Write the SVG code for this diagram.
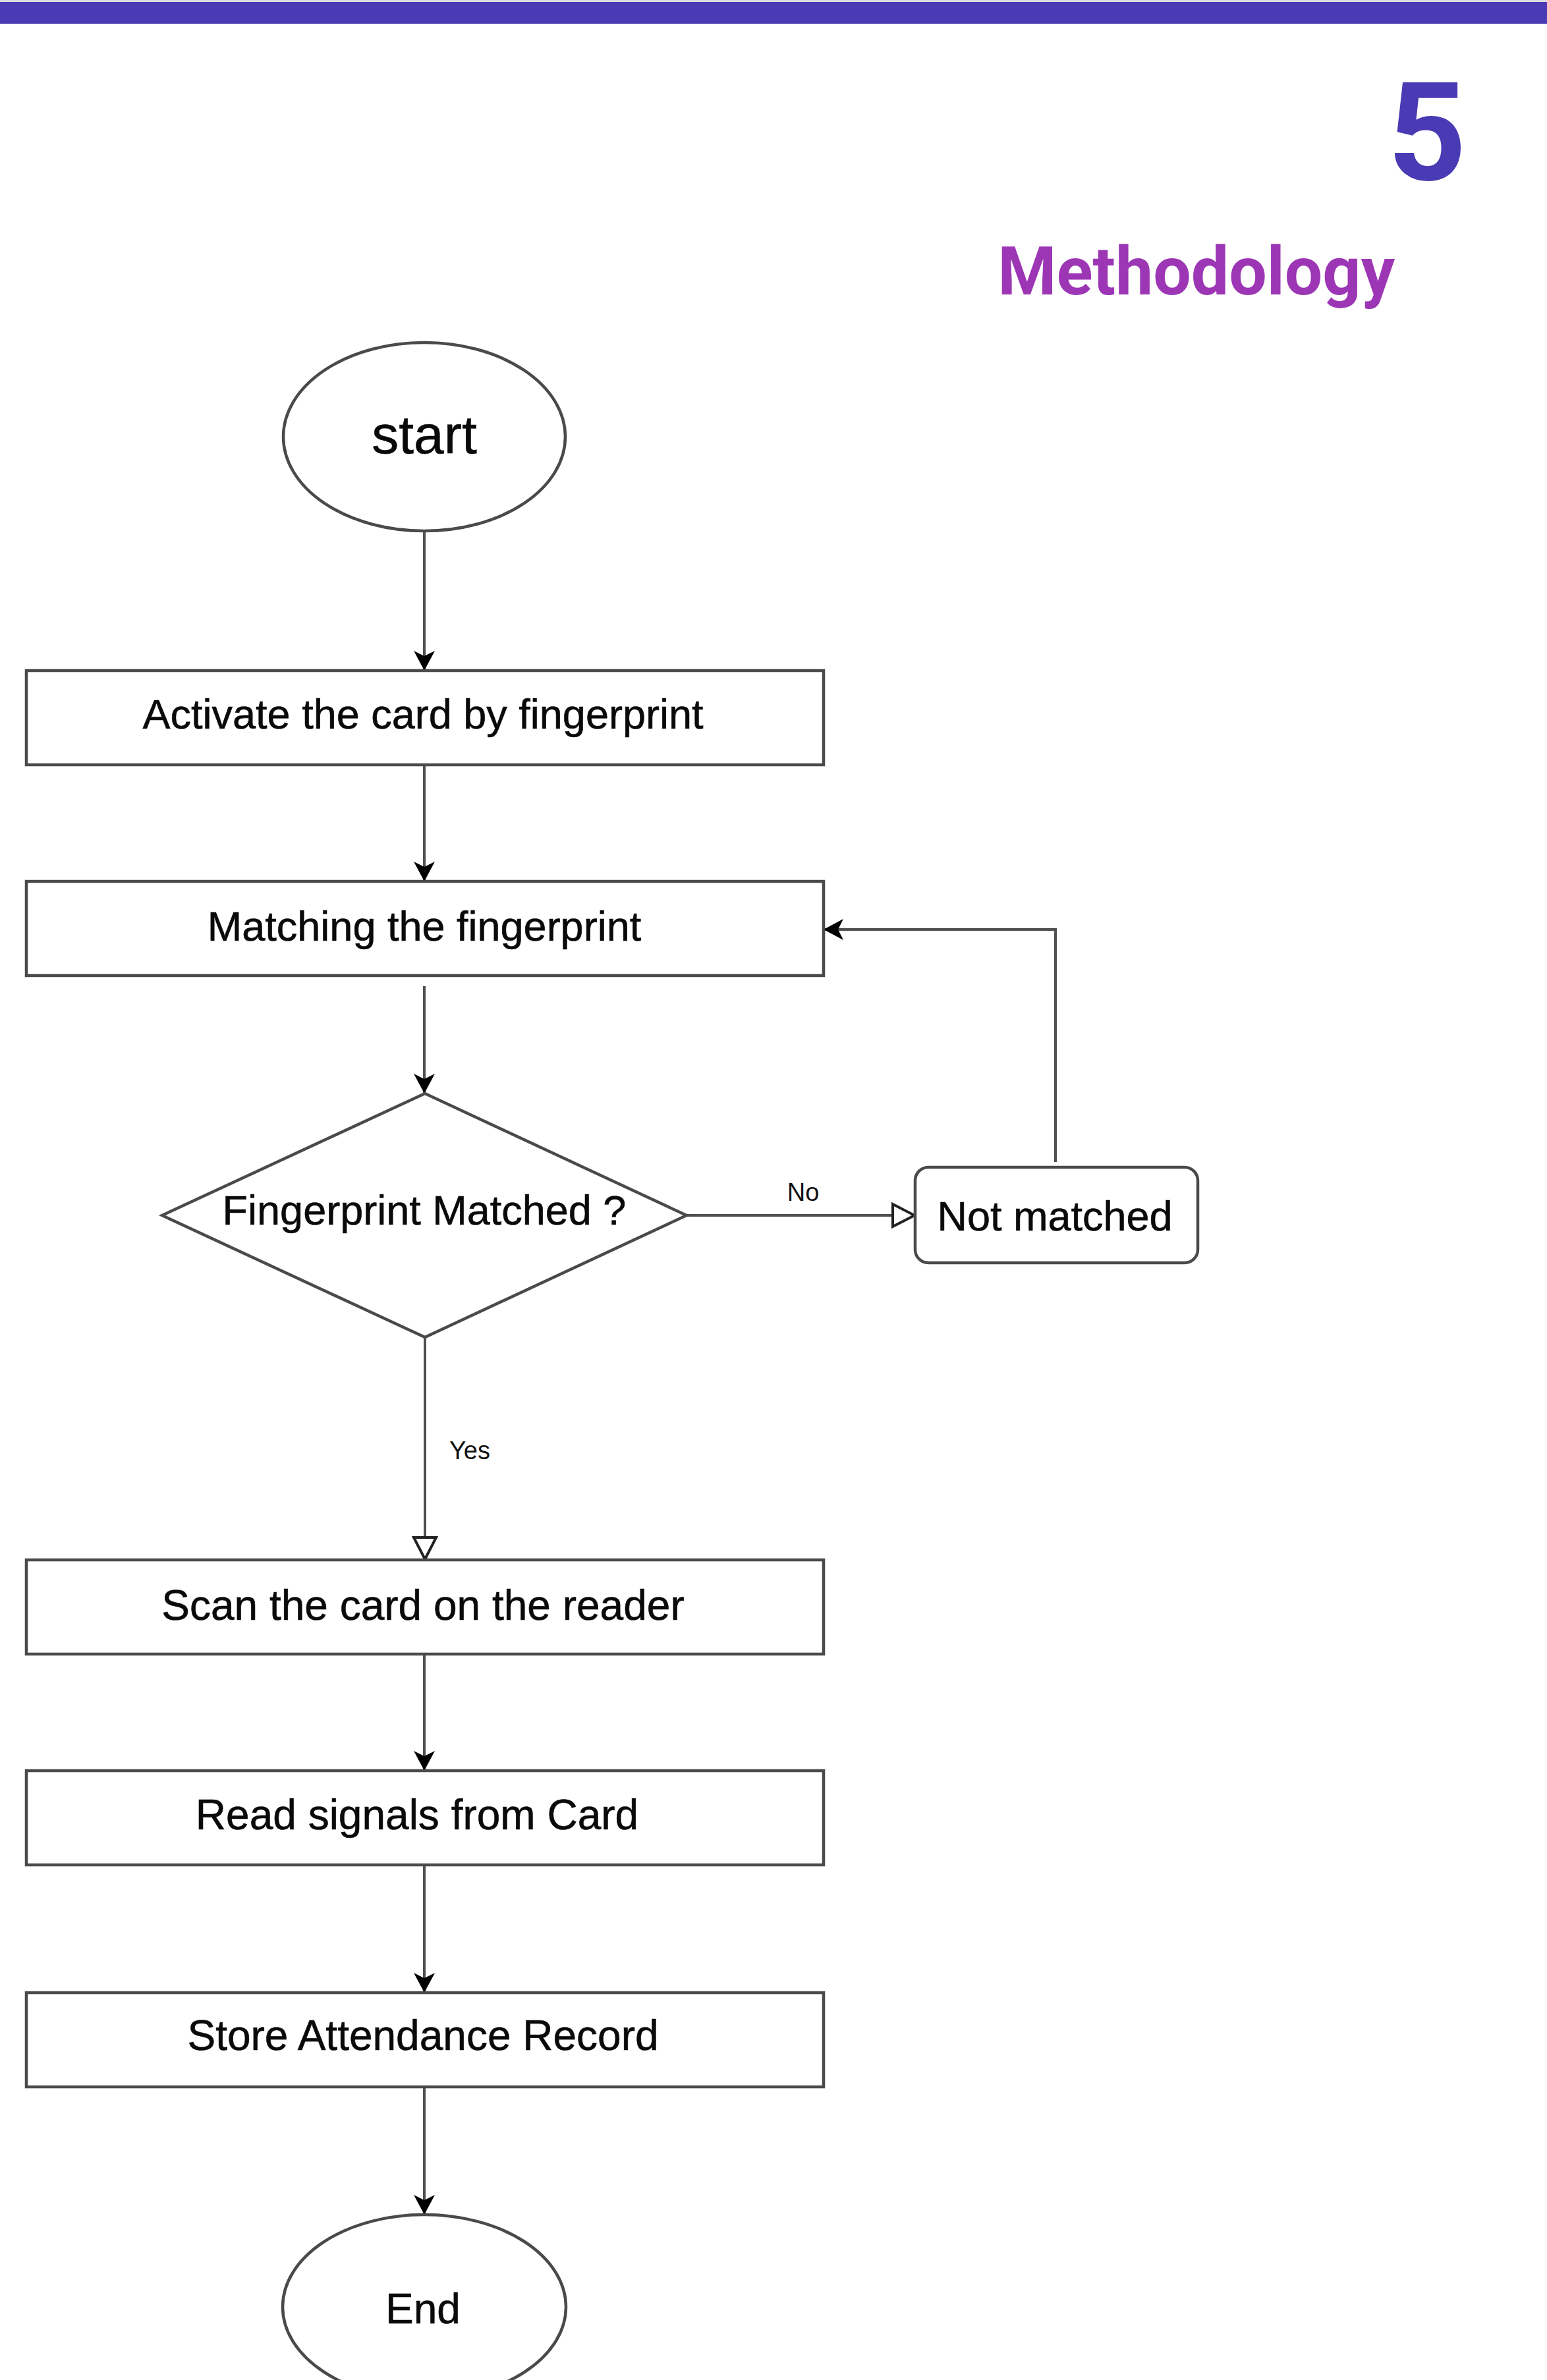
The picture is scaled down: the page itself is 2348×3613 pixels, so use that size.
<svg xmlns="http://www.w3.org/2000/svg" width="2348" height="3613" viewBox="0 0 2348 3613">
<style>
.node{fill:#ffffff;stroke:#4a4a4a;stroke-width:4.5}
.lbl{font-family:"Liberation Sans",Arial,sans-serif;fill:#0a0a0a;text-anchor:middle;stroke:#0a0a0a;stroke-width:0.6}
.edge{fill:none;stroke:#505050;stroke-width:4}
.small{font-family:"Liberation Sans",Arial,sans-serif;fill:#111111;font-size:38px}
</style>
<defs>
<marker id="fill" markerUnits="userSpaceOnUse" viewBox="0 0 32 32" refX="30" refY="16" markerWidth="32" markerHeight="32" orient="auto">
<path d="M30,16 L0,0 L8,16 L0,32 Z" fill="#000000"/>
</marker>
<marker id="open" markerUnits="userSpaceOnUse" viewBox="0 0 40 40" refX="37" refY="20" markerWidth="40" markerHeight="40" orient="auto">
<path d="M36,20 L3,3 L3,37 Z" fill="#ffffff" stroke="#222222" stroke-width="4"/>
</marker>
</defs>
<rect x="0" y="0" width="2348" height="3613" fill="#ffffff"/>
<rect x="0" y="0" width="2348" height="3" fill="#dddddd"/>
<rect x="0" y="3" width="2348" height="33" fill="#4a3ab4"/>
<text x="2166" y="273" font-family="Roboto,'Liberation Sans',sans-serif" font-weight="bold" font-size="208" fill="#4a3ab4" text-anchor="middle">5</text>
<text x="2117" y="447" font-family="Roboto,'Liberation Sans',sans-serif" font-weight="bold" font-size="102" fill="#9c36b5" text-anchor="end">Methodology</text>
<g id="connectors">
<line class="edge" x1="644" y1="806" x2="644" y2="1018" marker-end="url(#fill)"/>
<line class="edge" x1="644" y1="1162" x2="644" y2="1338" marker-end="url(#fill)"/>
<line class="edge" x1="644" y1="1497" x2="644" y2="1660" marker-end="url(#fill)"/>
<line class="edge" x1="1040" y1="1845" x2="1389" y2="1845" marker-end="url(#open)"/>
<text class="small" x="1219" y="1823" text-anchor="middle">No</text>
<line class="edge" x1="645" y1="2029" x2="645" y2="2368" marker-end="url(#open)"/>
<text class="small" x="682" y="2215">Yes</text>
<polyline class="edge" points="1602,1764 1602,1411 1250,1411" marker-end="url(#fill)"/>
<line class="edge" x1="644" y1="2511" x2="644" y2="2688" marker-end="url(#fill)"/>
<line class="edge" x1="644" y1="2831" x2="644" y2="3025" marker-end="url(#fill)"/>
<line class="edge" x1="644" y1="3168" x2="644" y2="3362" marker-end="url(#fill)"/>
</g>
<g id="start">
<ellipse class="node" cx="644" cy="663" rx="214" ry="143"/>
<text class="lbl" x="644" y="688" font-size="82">start</text>
</g>
<g id="activate">
<rect class="node" x="40" y="1018" width="1210" height="143"/>
<text class="lbl" x="642" y="1106" font-size="63">Activate the card by fingerprint</text>
</g>
<g id="matching">
<rect class="node" x="40" y="1338" width="1210" height="143"/>
<text class="lbl" x="644" y="1428" font-size="63">Matching the fingerprint</text>
</g>
<g id="decision">
<polygon class="node" points="645,1660 1042,1845 645,2030 246,1845"/>
<text class="lbl" x="644" y="1859" font-size="63">Fingerprint Matched ?</text>
</g>
<g id="notmatched">
<rect class="node" x="1389" y="1772" width="429" height="145" rx="20" ry="20"/>
<text class="lbl" x="1601" y="1868" font-size="63">Not matched</text>
</g>
<g id="scan">
<rect class="node" x="40" y="2368" width="1210" height="143"/>
<text class="lbl" x="642" y="2459" font-size="64">Scan the card on the reader</text>
</g>
<g id="read">
<rect class="node" x="40" y="2688" width="1210" height="143"/>
<text class="lbl" x="633" y="2777" font-size="64">Read signals from Card</text>
</g>
<g id="store">
<rect class="node" x="40" y="3025" width="1210" height="143"/>
<text class="lbl" x="642" y="3112" font-size="64">Store Attendance Record</text>
</g>
<g id="end">
<ellipse class="node" cx="644" cy="3502" rx="215" ry="140"/>
<text class="lbl" x="642" y="3527" font-size="64">End</text>
</g>
</svg>
